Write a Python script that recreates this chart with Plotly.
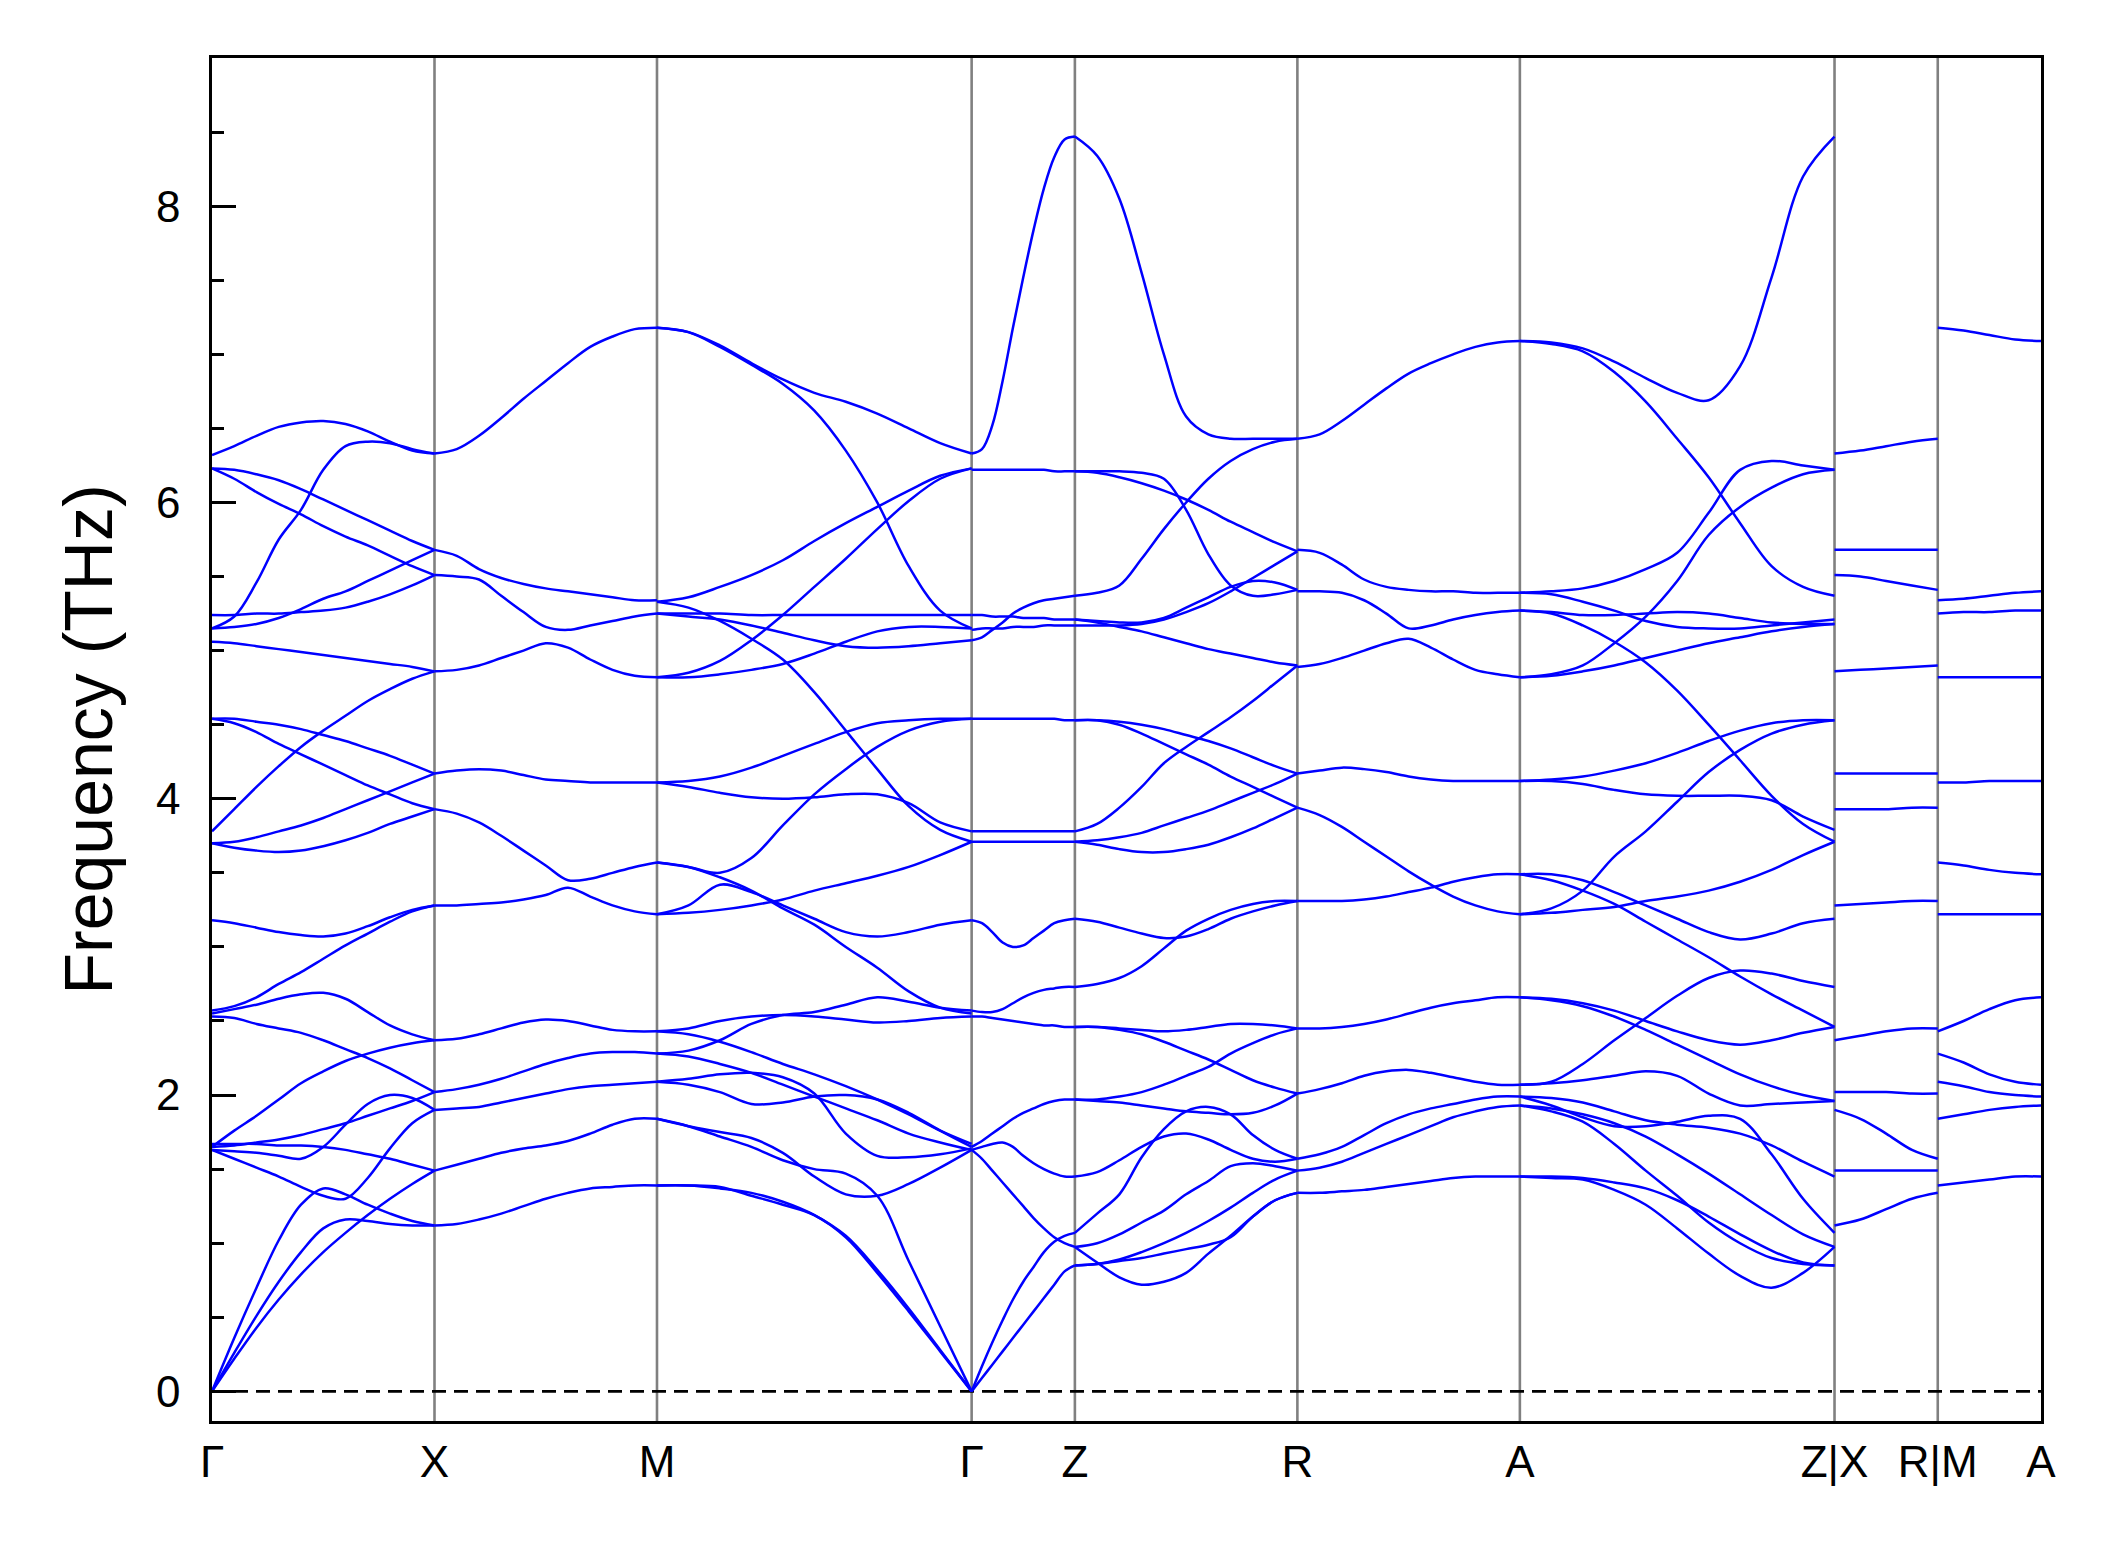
import numpy as np
import plotly.graph_objects as go

# ---------------- k-path ----------------
TICK_LABELS = ["Γ", "X", "M", "Γ", "Z", "R", "A", "Z|X", "R|M", "A"]
SEG_LENGTHS = [0.5, 0.5, 0.7071, 0.232, 0.5, 0.5, 0.7071, 0.232, 0.232]

# ---------------- band data (THz), sampled evenly along each segment ----------------
GX_BANDS = [
    [0, 0.36, 0.70, 1.02, 1.26, 1.37, 1.33, 1.26, 1.20, 1.15, 1.12],
    [0, 0.26, 0.51, 0.74, 0.94, 1.10, 1.16, 1.15, 1.13, 1.12, 1.12],
    [0, 0.22, 0.43, 0.62, 0.79, 0.94, 1.07, 1.19, 1.30, 1.40, 1.49],
    [1.63, 1.57, 1.51, 1.45, 1.38, 1.32, 1.30, 1.44, 1.64, 1.81, 1.90],
    [1.67, 1.67, 1.67, 1.66, 1.66, 1.65, 1.63, 1.60, 1.57, 1.53, 1.49],
    [1.63, 1.62, 1.61, 1.59, 1.57, 1.65, 1.80, 1.94, 2.00, 1.98, 1.90],
    [1.65, 1.66, 1.68, 1.70, 1.73, 1.77, 1.81, 1.86, 1.91, 1.96, 2.02],
    [1.65, 1.76, 1.86, 1.97, 2.08, 2.16, 2.23, 2.28, 2.32, 2.35, 2.37],
    [2.53, 2.52, 2.48, 2.45, 2.42, 2.37, 2.31, 2.25, 2.18, 2.10, 2.02],
    [2.55, 2.58, 2.61, 2.65, 2.68, 2.69, 2.65, 2.56, 2.47, 2.41, 2.37],
    [2.57, 2.60, 2.66, 2.75, 2.83, 2.92, 3.01, 3.09, 3.17, 3.24, 3.28],
    [3.18, 3.16, 3.13, 3.10, 3.08, 3.07, 3.09, 3.14, 3.20, 3.25, 3.28],
    [6.32, 6.38, 6.45, 6.51, 6.54, 6.55, 6.53, 6.48, 6.41, 6.35, 6.33],
    [5.15, 5.23, 5.46, 5.75, 5.95, 6.22, 6.38, 6.41, 6.40, 6.36, 6.33],
    [6.23, 6.22, 6.19, 6.15, 6.09, 6.02, 5.95, 5.88, 5.81, 5.74, 5.68],
    [6.23, 6.16, 6.07, 5.99, 5.92, 5.84, 5.77, 5.71, 5.64, 5.57, 5.51],
    [5.15, 5.16, 5.18, 5.22, 5.28, 5.35, 5.40, 5.47, 5.54, 5.61, 5.68],
    [5.24, 5.24, 5.25, 5.25, 5.26, 5.27, 5.29, 5.33, 5.38, 5.44, 5.51],
    [5.06, 5.05, 5.03, 5.01, 4.99, 4.97, 4.95, 4.93, 4.91, 4.89, 4.86],
    [3.78, 3.93, 4.08, 4.22, 4.35, 4.46, 4.56, 4.66, 4.74, 4.81, 4.86],
    [4.54, 4.54, 4.52, 4.50, 4.47, 4.43, 4.39, 4.34, 4.29, 4.23, 4.17],
    [4.54, 4.51, 4.45, 4.37, 4.30, 4.23, 4.16, 4.09, 4.03, 3.97, 3.93],
    [3.70, 3.71, 3.74, 3.78, 3.82, 3.87, 3.93, 3.99, 4.05, 4.11, 4.17],
    [3.70, 3.67, 3.65, 3.64, 3.65, 3.68, 3.72, 3.77, 3.83, 3.88, 3.93],
]

XM_BANDS = [
    [3.28, 3.28, 3.29, 3.30, 3.32, 3.35, 3.40, 3.34, 3.28, 3.24, 3.22],
    [2.37, 2.38, 2.41, 2.45, 2.49, 2.51, 2.50, 2.47, 2.44, 2.43, 2.43],
    [2.02, 2.04, 2.07, 2.11, 2.16, 2.21, 2.25, 2.28, 2.29, 2.29, 2.28],
    [1.90, 1.91, 1.92, 1.95, 1.98, 2.01, 2.04, 2.06, 2.07, 2.08, 2.09],
    [1.49, 1.53, 1.57, 1.61, 1.64, 1.66, 1.69, 1.74, 1.80, 1.84, 1.84],
    [1.12, 1.13, 1.16, 1.20, 1.25, 1.30, 1.34, 1.37, 1.38, 1.39, 1.39],
    [6.33, 6.36, 6.45, 6.57, 6.70, 6.82, 6.94, 7.05, 7.12, 7.17, 7.18],
    [5.68, 5.64, 5.55, 5.49, 5.45, 5.42, 5.40, 5.38, 5.36, 5.34, 5.34],
    [5.51, 5.50, 5.48, 5.37, 5.26, 5.16, 5.14, 5.17, 5.20, 5.23, 5.25],
    [4.86, 4.87, 4.90, 4.95, 5.00, 5.05, 5.02, 4.94, 4.87, 4.83, 4.82],
    [4.17, 4.19, 4.20, 4.19, 4.16, 4.13, 4.12, 4.11, 4.11, 4.11, 4.11],
    [3.93, 3.90, 3.84, 3.75, 3.65, 3.55, 3.45, 3.46, 3.50, 3.54, 3.57],
]

MG_BANDS = [
    [1.39, 1.39, 1.38, 1.32, 1.26, 1.19, 1.04, 0.80, 0.54, 0.27, 0.0],
    [1.39, 1.39, 1.37, 1.34, 1.28, 1.19, 1.05, 0.82, 0.56, 0.28, 0.0],
    [1.84, 1.79, 1.72, 1.65, 1.56, 1.50, 1.47, 1.32, 0.88, 0.44, 0.0],
    [1.84, 1.79, 1.75, 1.71, 1.61, 1.45, 1.33, 1.32, 1.40, 1.51, 1.63],
    [2.09, 2.07, 2.02, 1.94, 1.95, 1.99, 2.00, 1.97, 1.88, 1.76, 1.65],
    [2.09, 2.11, 2.14, 2.15, 2.12, 2.01, 1.74, 1.59, 1.58, 1.60, 1.64],
    [2.28, 2.26, 2.21, 2.15, 2.07, 1.99, 1.91, 1.83, 1.74, 1.68, 1.63],
    [2.43, 2.41, 2.36, 2.29, 2.21, 2.14, 2.06, 1.97, 1.87, 1.76, 1.67],
    [2.43, 2.45, 2.50, 2.53, 2.54, 2.53, 2.51, 2.49, 2.50, 2.52, 2.53],
    [2.28, 2.30, 2.37, 2.48, 2.54, 2.56, 2.61, 2.66, 2.63, 2.59, 2.57],
    [3.22, 3.28, 3.42, 3.37, 3.28, 3.19, 3.10, 3.07, 3.10, 3.15, 3.18],
    [3.57, 3.54, 3.47, 3.38, 3.26, 3.15, 3.00, 2.86, 2.70, 2.59, 2.55],
    [3.22, 3.23, 3.25, 3.28, 3.32, 3.38, 3.43, 3.48, 3.54, 3.62, 3.71],
    [7.18, 7.15, 7.06, 6.94, 6.83, 6.74, 6.68, 6.60, 6.50, 6.40, 6.33],
    [7.18, 7.15, 7.05, 6.93, 6.80, 6.62, 6.35, 6.00, 5.57, 5.27, 5.15],
    [5.33, 5.36, 5.43, 5.51, 5.61, 5.74, 5.86, 5.97, 6.08, 6.18, 6.23],
    [4.82, 4.85, 4.93, 5.07, 5.24, 5.43, 5.62, 5.82, 6.01, 6.16, 6.23],
    [5.33, 5.29, 5.20, 5.08, 4.94, 4.72, 4.46, 4.20, 3.95, 3.79, 3.71],
    [5.25, 5.25, 5.25, 5.24, 5.24, 5.24, 5.24, 5.24, 5.24, 5.24, 5.24],
    [5.25, 5.23, 5.21, 5.17, 5.12, 5.07, 5.03, 5.02, 5.03, 5.05, 5.07],
    [4.82, 4.82, 4.84, 4.87, 4.91, 4.98, 5.06, 5.13, 5.16, 5.16, 5.15],
    [4.11, 4.12, 4.15, 4.21, 4.29, 4.37, 4.45, 4.51, 4.53, 4.54, 4.54],
    [4.11, 4.08, 4.04, 4.01, 4.00, 4.01, 4.03, 4.03, 3.97, 3.84, 3.78],
    [3.57, 3.54, 3.50, 3.60, 3.82, 4.03, 4.20, 4.35, 4.46, 4.52, 4.54],
]

GZ_BANDS = [
    [3.18, 3.16, 3.10, 3.03, 3.00, 3.01, 3.06, 3.11, 3.16, 3.18, 3.19],
    [2.57, 2.56, 2.56, 2.58, 2.62, 2.66, 2.69, 2.71, 2.72, 2.73, 2.73],
    [2.53, 2.53, 2.52, 2.51, 2.50, 2.49, 2.48, 2.47, 2.47, 2.46, 2.46],
    [1.65, 1.69, 1.74, 1.79, 1.84, 1.88, 1.91, 1.94, 1.96, 1.97, 1.97],
    [1.63, 1.65, 1.67, 1.68, 1.65, 1.59, 1.54, 1.50, 1.47, 1.45, 1.45],
    [1.63, 1.57, 1.49, 1.41, 1.33, 1.25, 1.17, 1.10, 1.04, 1.00, 0.975],
    [0, 0.17, 0.33, 0.48, 0.62, 0.74, 0.84, 0.94, 1.01, 1.05, 1.07],
    [0, 0.09, 0.18, 0.27, 0.36, 0.45, 0.54, 0.63, 0.72, 0.81, 0.85],
    [6.33, 6.36, 6.52, 6.82, 7.18, 7.52, 7.84, 8.12, 8.33, 8.45, 8.47],
    [6.22, 6.22, 6.22, 6.22, 6.22, 6.22, 6.22, 6.22, 6.21, 6.21, 6.21],
    [5.24, 5.24, 5.23, 5.23, 5.23, 5.22, 5.22, 5.22, 5.21, 5.21, 5.21],
    [5.14, 5.15, 5.15, 5.15, 5.16, 5.16, 5.16, 5.17, 5.17, 5.17, 5.17],
    [5.07, 5.09, 5.14, 5.19, 5.25, 5.29, 5.32, 5.34, 5.35, 5.36, 5.37],
    [4.54, 4.54, 4.54, 4.54, 4.54, 4.54, 4.54, 4.54, 4.54, 4.53, 4.53],
    [3.78, 3.78, 3.78, 3.78, 3.78, 3.78, 3.78, 3.78, 3.78, 3.78, 3.78],
    [3.71, 3.71, 3.71, 3.71, 3.71, 3.71, 3.71, 3.71, 3.71, 3.71, 3.71],
]

ZR_BANDS = [
    [8.47, 8.34, 8.05, 7.55, 7.00, 6.58, 6.46, 6.43, 6.43, 6.43, 6.43],
    [6.21, 6.21, 6.21, 6.20, 6.16, 5.95, 5.65, 5.44, 5.37, 5.38, 5.41],
    [6.21, 6.20, 6.17, 6.13, 6.08, 6.02, 5.95, 5.87, 5.80, 5.73, 5.67],
    [5.37, 5.39, 5.44, 5.62, 5.82, 6.00, 6.16, 6.28, 6.36, 6.41, 6.43],
    [5.21, 5.20, 5.19, 5.19, 5.22, 5.29, 5.36, 5.43, 5.47, 5.46, 5.41],
    [5.17, 5.17, 5.17, 5.18, 5.21, 5.26, 5.32, 5.40, 5.49, 5.58, 5.67],
    [5.21, 5.19, 5.16, 5.13, 5.09, 5.05, 5.01, 4.98, 4.95, 4.92, 4.90],
    [4.53, 4.53, 4.52, 4.50, 4.47, 4.43, 4.39, 4.34, 4.28, 4.22, 4.17],
    [4.53, 4.53, 4.50, 4.44, 4.37, 4.30, 4.23, 4.15, 4.08, 4.01, 3.94],
    [3.78, 3.83, 3.94, 4.08, 4.24, 4.35, 4.45, 4.55, 4.66, 4.78, 4.90],
    [3.71, 3.72, 3.74, 3.77, 3.82, 3.87, 3.92, 3.98, 4.04, 4.10, 4.17],
    [3.71, 3.69, 3.66, 3.64, 3.64, 3.66, 3.69, 3.74, 3.80, 3.87, 3.94],
    [3.19, 3.17, 3.13, 3.09, 3.06, 3.07, 3.12, 3.19, 3.24, 3.28, 3.31],
    [2.73, 2.75, 2.79, 2.87, 2.99, 3.11, 3.19, 3.25, 3.29, 3.31, 3.31],
    [2.46, 2.46, 2.45, 2.44, 2.43, 2.44, 2.46, 2.48, 2.48, 2.47, 2.45],
    [2.46, 2.46, 2.44, 2.41, 2.36, 2.30, 2.24, 2.17, 2.10, 2.05, 2.01],
    [1.97, 1.97, 1.99, 2.02, 2.07, 2.13, 2.19, 2.28, 2.35, 2.41, 2.45],
    [1.97, 1.96, 1.95, 1.93, 1.91, 1.89, 1.88, 1.87, 1.88, 1.93, 2.01],
    [1.45, 1.48, 1.56, 1.65, 1.72, 1.74, 1.70, 1.63, 1.57, 1.55, 1.57],
    [1.07, 1.20, 1.33, 1.58, 1.77, 1.89, 1.92, 1.87, 1.73, 1.63, 1.57],
    [0.975, 1.00, 1.06, 1.14, 1.22, 1.33, 1.42, 1.52, 1.54, 1.52, 1.49],
    [0.85, 0.86, 0.88, 0.90, 0.93, 0.96, 0.99, 1.04, 1.18, 1.29, 1.34],
    [0.975, 0.87, 0.77, 0.72, 0.74, 0.80, 0.93, 1.05, 1.18, 1.29, 1.34],
    [0.85, 0.86, 0.89, 0.94, 1.00, 1.07, 1.15, 1.24, 1.34, 1.43, 1.49],
]

RA_BANDS = [
    [6.43, 6.46, 6.55, 6.66, 6.77, 6.87, 6.94, 7.00, 7.05, 7.08, 7.09],
    [5.68, 5.66, 5.58, 5.48, 5.43, 5.41, 5.40, 5.40, 5.39, 5.39, 5.39],
    [5.40, 5.40, 5.39, 5.34, 5.25, 5.15, 5.17, 5.21, 5.24, 5.26, 5.27],
    [4.89, 4.91, 4.95, 5.00, 5.05, 5.08, 5.02, 4.94, 4.87, 4.84, 4.82],
    [4.17, 4.19, 4.21, 4.20, 4.18, 4.15, 4.13, 4.12, 4.12, 4.12, 4.12],
    [3.94, 3.89, 3.81, 3.71, 3.61, 3.51, 3.42, 3.34, 3.28, 3.24, 3.22],
    [3.31, 3.31, 3.31, 3.32, 3.34, 3.37, 3.40, 3.44, 3.47, 3.49, 3.49],
    [2.45, 2.45, 2.46, 2.48, 2.51, 2.55, 2.59, 2.62, 2.64, 2.66, 2.66],
    [2.01, 2.04, 2.08, 2.13, 2.16, 2.17, 2.15, 2.12, 2.09, 2.07, 2.07],
    [1.57, 1.60, 1.65, 1.73, 1.81, 1.87, 1.91, 1.94, 1.97, 1.99, 1.99],
    [1.49, 1.51, 1.55, 1.61, 1.67, 1.73, 1.79, 1.85, 1.89, 1.92, 1.93],
    [1.34, 1.34, 1.35, 1.36, 1.38, 1.40, 1.42, 1.44, 1.45, 1.45, 1.45],
]

AZ_BANDS = [
    [7.09, 7.08, 7.04, 6.95, 6.84, 6.74, 6.69, 6.92, 7.52, 8.20, 8.47],
    [7.09, 7.07, 7.02, 6.88, 6.68, 6.43, 6.17, 5.86, 5.57, 5.43, 5.37],
    [5.39, 5.40, 5.42, 5.47, 5.55, 5.66, 5.93, 6.22, 6.28, 6.25, 6.22],
    [4.82, 4.84, 4.90, 5.05, 5.23, 5.47, 5.78, 5.97, 6.10, 6.19, 6.22],
    [5.39, 5.38, 5.33, 5.27, 5.20, 5.16, 5.15, 5.15, 5.17, 5.19, 5.21],
    [5.27, 5.26, 5.24, 5.24, 5.25, 5.26, 5.25, 5.22, 5.19, 5.18, 5.18],
    [4.82, 4.83, 4.86, 4.90, 4.95, 5.00, 5.05, 5.09, 5.13, 5.16, 5.18],
    [5.27, 5.25, 5.17, 5.06, 4.92, 4.73, 4.50, 4.26, 4.02, 3.83, 3.71],
    [4.12, 4.12, 4.10, 4.06, 4.03, 4.02, 4.02, 4.02, 3.99, 3.88, 3.79],
    [4.12, 4.13, 4.15, 4.19, 4.24, 4.31, 4.39, 4.46, 4.51, 4.53, 4.53],
    [3.22, 3.26, 3.38, 3.61, 3.78, 3.98, 4.18, 4.33, 4.44, 4.50, 4.53],
    [3.22, 3.23, 3.25, 3.27, 3.31, 3.34, 3.38, 3.44, 3.52, 3.62, 3.71],
    [3.49, 3.49, 3.45, 3.37, 3.28, 3.19, 3.10, 3.05, 3.09, 3.16, 3.19],
    [3.49, 3.45, 3.38, 3.29, 3.17, 3.05, 2.93, 2.80, 2.68, 2.57, 2.46],
    [2.66, 2.65, 2.62, 2.57, 2.50, 2.43, 2.37, 2.34, 2.37, 2.42, 2.46],
    [2.66, 2.64, 2.60, 2.53, 2.44, 2.34, 2.24, 2.14, 2.06, 2.00, 1.96],
    [2.07, 2.09, 2.21, 2.37, 2.52, 2.67, 2.79, 2.84, 2.82, 2.77, 2.73],
    [2.07, 2.08, 2.10, 2.13, 2.16, 2.13, 2.01, 1.93, 1.94, 1.95, 1.96],
    [1.99, 1.93, 1.85, 1.79, 1.79, 1.82, 1.86, 1.84, 1.60, 1.30, 1.07],
    [1.99, 1.98, 1.95, 1.89, 1.83, 1.80, 1.78, 1.74, 1.66, 1.55, 1.45],
    [1.93, 1.89, 1.82, 1.67, 1.49, 1.32, 1.14, 1.00, 0.90, 0.86, 0.85],
    [1.93, 1.91, 1.87, 1.81, 1.72, 1.60, 1.47, 1.33, 1.19, 1.06, 0.975],
    [1.45, 1.44, 1.43, 1.36, 1.26, 1.10, 0.93, 0.78, 0.70, 0.80, 0.975],
    [1.45, 1.45, 1.44, 1.41, 1.37, 1.29, 1.18, 1.06, 0.95, 0.87, 0.85],
]

XR_BANDS = [
    [6.33, 6.35, 6.38, 6.41, 6.43],
    [5.68, 5.68, 5.68, 5.68, 5.68],
    [5.51, 5.50, 5.47, 5.44, 5.41],
    [4.86, 4.87, 4.88, 4.89, 4.90],
    [4.17, 4.17, 4.17, 4.17, 4.17],
    [3.93, 3.93, 3.93, 3.94, 3.94],
    [3.28, 3.29, 3.30, 3.31, 3.31],
    [2.37, 2.40, 2.43, 2.45, 2.45],
    [2.02, 2.02, 2.02, 2.01, 2.01],
    [1.90, 1.84, 1.74, 1.63, 1.57],
    [1.49, 1.49, 1.49, 1.49, 1.49],
    [1.12, 1.16, 1.23, 1.30, 1.34],
]

MA_BANDS = [
    [7.18, 7.16, 7.13, 7.10, 7.09],
    [5.34, 5.35, 5.37, 5.39, 5.40],
    [5.25, 5.26, 5.26, 5.27, 5.27],
    [4.82, 4.82, 4.82, 4.82, 4.82],
    [4.11, 4.11, 4.12, 4.12, 4.12],
    [3.57, 3.55, 3.52, 3.50, 3.49],
    [3.22, 3.22, 3.22, 3.22, 3.22],
    [2.43, 2.50, 2.58, 2.64, 2.66],
    [2.28, 2.22, 2.14, 2.09, 2.07],
    [2.09, 2.06, 2.02, 2.00, 1.99],
    [1.84, 1.87, 1.90, 1.92, 1.93],
    [1.39, 1.41, 1.43, 1.45, 1.45],
]

SEGMENTS = [GX_BANDS, XM_BANDS, MG_BANDS, GZ_BANDS, ZR_BANDS, RA_BANDS,
            AZ_BANDS, XR_BANDS, MA_BANDS]

# ---------------- figure ----------------
tick_pos = np.concatenate([[0.0], np.cumsum(SEG_LENGTHS)])

fig = go.Figure()
for i, bands in enumerate(SEGMENTS):
    x0, x1 = tick_pos[i], tick_pos[i + 1]
    xs, ys = [], []
    for b in bands:
        xk = np.linspace(x0, x1, len(b))
        xs += list(xk) + [None]
        ys += list(b) + [None]
    fig.add_trace(go.Scatter(
        x=xs, y=ys, mode="lines",
        line=dict(color="#0000ff", width=2.5, shape="spline", smoothing=1.0),
        hoverinfo="skip", showlegend=False))

shapes = []
for p in tick_pos[1:-1]:
    shapes.append(dict(type="line", xref="x", yref="paper", x0=p, x1=p, y0=0, y1=1,
                       line=dict(color="#808080", width=2.6), layer="below"))
shapes.append(dict(type="line", xref="paper", yref="y", x0=0, x1=1, y0=0, y1=0,
                   line=dict(color="black", width=2.6, dash="14px,8px"), layer="below"))

FONT = "Liberation Sans, Arial, Helvetica, sans-serif"

fig.update_layout(
    width=2110, height=1541,
    margin=dict(l=204, r=77, t=50, b=128),
    paper_bgcolor="white", plot_bgcolor="white",
    shapes=shapes,
    font=dict(family=FONT, color="black", size=44),
    xaxis=dict(range=[tick_pos[0], tick_pos[-1]], tickvals=list(tick_pos),
               ticktext=TICK_LABELS, ticks="", showgrid=False, zeroline=False,
               showline=True, linecolor="black", linewidth=2.6, mirror=True,
               tickfont=dict(size=44, family=FONT, color="black"),
               ticklabelstandoff=0),
    yaxis=dict(range=[-0.2, 9.0], tickvals=[0, 2, 4, 6, 8], ticks="inside",
               ticklen=24, tickwidth=2.6, tickcolor="black",
               minor=dict(dtick=0.5, tick0=0, ticks="inside", ticklen=12,
                          tickwidth=2.6, tickcolor="black", showgrid=False),
               showgrid=False, zeroline=False, showline=True, linecolor="black",
               linewidth=2.6, mirror=True,
               tickfont=dict(size=44, family=FONT, color="black"),
               ticklabelstandoff=20),
    annotations=[dict(text="Frequency (THz)", xref="paper", yref="paper",
                      x=-0.0678, y=0.5, xanchor="center", yanchor="middle",
                      textangle=-90, showarrow=False,
                      font=dict(size=68, family=FONT, color="black"))],
)

fig.write_html("out.html")
